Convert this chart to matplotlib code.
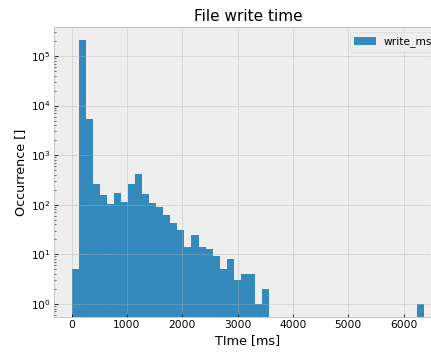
import numpy as np
import matplotlib
matplotlib.use("Agg")
import matplotlib.pyplot as plt

# Histogram data (50 bins between min and max write time)
write_min = 0.0
write_max = 6375.0
n_bins = 50
counts = [5, 209000, 5300, 257, 157, 105, 175, 113, 266, 423,
          162, 110, 90, 61, 43, 31, 14, 24, 14, 13,
          9, 5, 8, 3, 4, 4, 1, 2] + [0] * 21 + [1]
series_name = "write_ms"
title = "File write time"
xlabel = "TIme [ms]"
ylabel = "Occurrence []"

plt.style.use("bmh")
plt.rcParams["font.size"] = 10.6
edges = np.linspace(write_min, write_max, n_bins + 1)
centers = (edges[:-1] + edges[1:]) / 2

fig = plt.figure(figsize=(431 / 72, 354 / 72), dpi=72)
ax = fig.add_axes([53.9 / 431, 37 / 354, 388 / 431, 290 / 354])
ax.hist(centers, bins=edges, weights=counts, label=series_name)
ax.set_yscale("log")
ax.set_ylim(0.54, 3.86e5)
ax.set_xlim(-319, 6694)
ax.set_title(title)
ax.set_xlabel(xlabel)
ax.set_ylabel(ylabel)
ax.legend(loc="upper right")
fig.savefig("out.png", dpi=72)
